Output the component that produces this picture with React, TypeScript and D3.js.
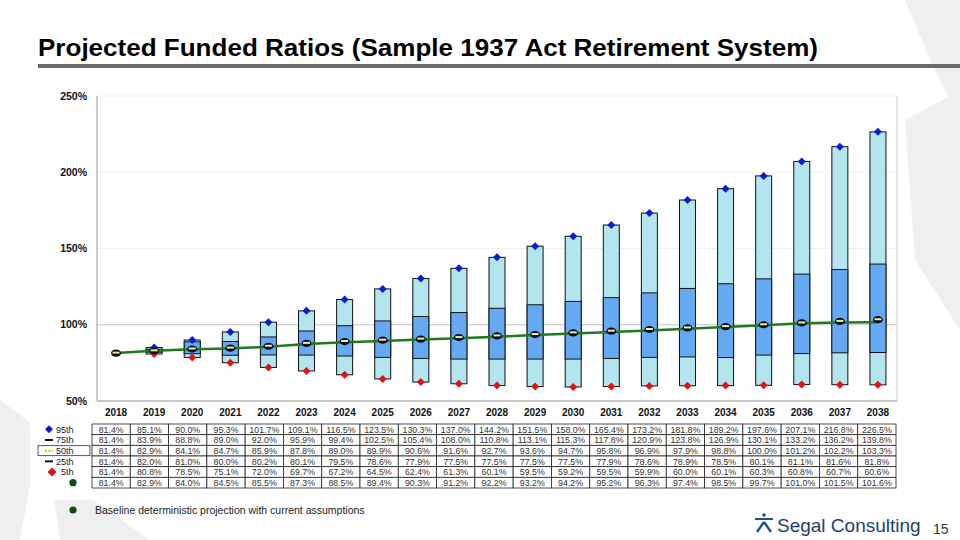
import * as React from "react";
import * as d3 from "d3";

const years = [
  "2018", "2019", "2020", "2021", "2022", "2023", "2024", "2025", "2026", "2027", "2028",
  "2029", "2030", "2031", "2032", "2033", "2034", "2035", "2036", "2037", "2038",
];
const p95 = [81.4, 85.1, 90.0, 95.3, 101.7, 109.1, 116.5, 123.5, 130.3, 137.0, 144.2, 151.5, 158.0, 165.4, 173.2, 181.8, 189.2, 197.6, 207.1, 216.8, 226.5];
const p75 = [81.4, 83.9, 88.8, 89.0, 92.0, 95.9, 99.4, 102.5, 105.4, 108.0, 110.8, 113.1, 115.3, 117.8, 120.9, 123.8, 126.9, 130.1, 133.2, 136.2, 139.8];
const p50 = [81.4, 82.9, 84.1, 84.7, 85.9, 87.8, 89.0, 89.9, 90.6, 91.6, 92.7, 93.6, 94.7, 95.8, 96.9, 97.9, 98.8, 100.0, 101.2, 102.2, 103.3];
const p25 = [81.4, 82.0, 81.0, 80.0, 80.2, 80.1, 79.5, 78.6, 77.9, 77.5, 77.5, 77.5, 77.5, 77.9, 78.6, 78.9, 78.5, 80.1, 81.1, 81.6, 81.8];
const p5 = [81.4, 80.8, 78.5, 75.1, 72.0, 69.7, 67.2, 64.5, 62.4, 61.3, 60.1, 59.5, 59.2, 59.5, 59.9, 60.0, 60.1, 60.3, 60.8, 60.7, 60.6];
const baseline = [81.4, 82.9, 84.0, 84.5, 85.5, 87.3, 88.5, 89.4, 90.3, 91.2, 92.2, 93.2, 94.2, 95.2, 96.3, 97.4, 98.5, 99.7, 101.0, 101.5, 101.6];
const yTicks = [50, 100, 150, 200, 250];
const rowLabels = ["95th", "75th", "50th", "25th", "5th", ""];

const LIGHT = "#b3e5ee";
const MID = "#66a9f3";
const BLUE = "#0a1ad6";
const RED = "#e3120f";
const GREEN = "#1e7a1e";

export default function App() {
  const x = d3
    .scaleBand<string>()
    .domain(years)
    .range([97, 897])
    .paddingInner(0.58)
    .paddingOuter(0.29);
  const xc = (y: string) => x(y)! + x.bandwidth() / 2;
  const xt = d3.scaleBand<string>().domain(years).range([92, 896]);
  const y = d3.scaleLinear().domain([50, 250]).range([401, 96]);
  const rowY = d3.scaleBand<number>().domain(d3.range(6)).range([424, 488]);
  const rows = [p95, p75, p50, p25, p5, baseline];

  const line = d3
    .line<number>()
    .x((_, i) => xc(years[i]))
    .y((d) => y(d));

  const diamond = (cx: number, cy: number, r: number) =>
    `M${cx},${cy - r}L${cx + r},${cy}L${cx},${cy + r}L${cx - r},${cy}Z`;

  const sans = "'Liberation Sans', Arial, sans-serif";

  return (
    <svg
      width={960}
      height={540}
      style={{ position: "absolute", left: 0, top: 0, background: "#fff" }}
      fontFamily={sans}
    >
      {/* faint background decoration */}
      <g fill="#efefef">
        <polygon points="0,400 40,430 20,540 0,540" />
        <polygon points="50,470 150,540 60,540" />
        <polygon points="905,0 960,0 960,120 930,60" />
        <polygon points="905,120 960,90 960,330 915,260" />
      </g>
      <rect x={30} y={80} width={875} height={420} fill="#fff" />

      {/* title */}
      <text
        x={38}
        y={56}
        fontWeight="bold"
        fontSize={24}
        textLength={780}
        lengthAdjust="spacingAndGlyphs"
        fill="#000"
      >
        Projected Funded Ratios (Sample 1937 Act Retirement System)
      </text>
      <rect x={38} y={64} width={922} height={4} fill="#6b6b6b" />

      {/* gridlines and frame */}
      {yTicks.map((t) => (
        <line
          key={t}
          x1={97}
          x2={897}
          y1={y(t)}
          y2={y(t)}
          stroke={t === 100 ? "#c4c4c4" : "#f0f0f0"}
          strokeWidth={1}
        />
      ))}
      <line x1={97} x2={97} y1={96} y2={401} stroke="#999" />
      <line x1={897} x2={897} y1={96} y2={401} stroke="#ccc" />
      <line x1={97} x2={897} y1={401} y2={401} stroke="#999" />

      {yTicks.map((t) => (
        <text
          key={t}
          x={87}
          y={y(t) + 3.5}
          textAnchor="end"
          fontSize={10.5}
          fontWeight="bold"
          fill="#111"
        >
          {t}%
        </text>
      ))}
      {years.map((yr) => (
        <text
          key={yr}
          x={xc(yr)}
          y={416}
          textAnchor="middle"
          fontSize={10}
          fontWeight="bold"
          fill="#111"
        >
          {yr}
        </text>
      ))}

      {/* boxes */}
      {years.map((yr, i) => (
        <g key={yr}>
          <rect
            x={x(yr)}
            y={y(p95[i])}
            width={x.bandwidth()}
            height={y(p5[i]) - y(p95[i])}
            fill={LIGHT}
            stroke="#111"
            strokeWidth={1}
          />
          <rect
            x={x(yr)}
            y={y(p75[i])}
            width={x.bandwidth()}
            height={y(p25[i]) - y(p75[i])}
            fill={MID}
            stroke="#111"
            strokeWidth={1}
          />
        </g>
      ))}

      {/* baseline line */}
      <path d={line(baseline) ?? ""} fill="none" stroke={GREEN} strokeWidth={2.5} />

      {/* markers */}
      {years.map((yr, i) => (
        <g key={yr}>
          {i > 0 && (
            <>
              <path d={diamond(xc(yr), y(p95[i]), 4)} fill={BLUE} />
              <path d={diamond(xc(yr), y(p5[i]), 4)} fill={RED} />
            </>
          )}
          <ellipse cx={xc(yr)} cy={y(p50[i])} rx={5} ry={3.6} fill="#0b0b2e" />
          <line
            x1={xc(yr) - 3.5}
            x2={xc(yr) + 3.5}
            y1={y(p50[i]) - 0.5}
            y2={y(p50[i]) - 0.5}
            stroke="#f2f27a"
            strokeWidth={2}
          />
        </g>
      ))}

      {/* data table */}
      {rows.map((r, ri) => (
        <g key={ri}>
          {years.map((yr, i) => (
            <g key={yr}>
              <rect
                x={xt(yr)}
                y={rowY(ri)}
                width={xt.bandwidth()}
                height={rowY.bandwidth()}
                fill="#fff"
                stroke="#222"
                strokeWidth={0.8}
              />
              <text
                x={xt(yr)! + xt.bandwidth() / 2}
                y={rowY(ri)! + rowY.bandwidth() / 2 + 3.2}
                textAnchor="middle"
                fontSize={8.8}
                fill="#333"
              >
                {r[i].toFixed(1)}%
              </text>
            </g>
          ))}
        </g>
      ))}

      {/* row labels */}
      {rowLabels.map((lab, ri) => {
        const cy = rowY(ri)! + rowY.bandwidth() / 2;
        return (
          <g key={ri}>
            {ri === 0 && <path d={diamond(49, cy, 4)} fill={BLUE} />}
            {(ri === 1 || ri === 3) && (
              <line x1={45} x2={53} y1={cy} y2={cy} stroke="#111" strokeWidth={2} />
            )}
            {ri === 2 && (
              <>
                <rect x={38} y={cy - 5} width={52} height={10} fill="#fff" stroke="#333" strokeWidth={0.8} />
                <line x1={45} x2={53} y1={cy} y2={cy} stroke="#d8c400" strokeWidth={2} strokeDasharray="2,1.5" />
              </>
            )}
            {ri === 4 && <path d={diamond(52, cy, 4.5)} fill={RED} />}
            {ri === 5 && <circle cx={73} cy={cy} r={3.6} fill="#0f4d0f" />}
            {lab && (
              <text x={ri === 4 ? 61 : 56} y={cy + 3.2} fontSize={9} fill="#222">
                {lab}
              </text>
            )}
          </g>
        );
      })}

      {/* footer legend */}
      <circle cx={73} cy={510} r={3.6} fill="#0f4d0f" />
      <text x={95} y={513.5} fontSize={10.5} fill="#222">
        Baseline deterministic projection with current assumptions
      </text>

      {/* logo */}
      <g transform="translate(764,524)" fill="#1f4f8f" stroke="#1f4f8f">
        <line x1={-9} x2={9} y1={-5} y2={-5} strokeWidth={2} />
        <circle cx={0} cy={-9} r={1.8} stroke="none" />
        <line x1={0} x2={-7} y1={-2} y2={8} strokeWidth={2.4} />
        <line x1={0} x2={7} y1={-2} y2={8} strokeWidth={2.4} />
      </g>
      <text x={777} y={532} fontSize={19} fill="#1f3f6f">
        Segal Consulting
      </text>
      <text x={933} y={534} fontSize={14} fill="#333">
        15
      </text>
    </svg>
  );
}
